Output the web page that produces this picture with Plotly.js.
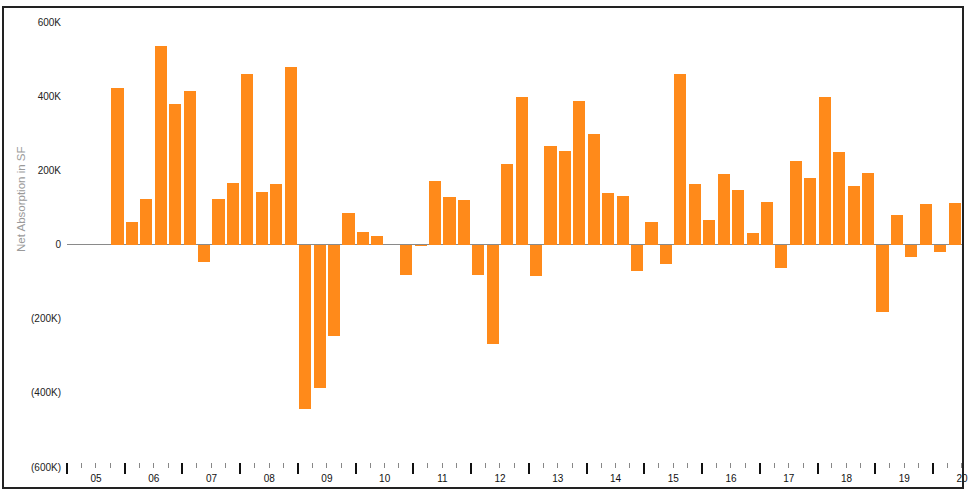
<!DOCTYPE html>
<html>
<head>
<meta charset="utf-8">
<script src="https://cdn.plot.ly/plotly-3.0.1.min.js"></script>
<style>
  html, body { margin: 0; padding: 0; background: #fff; }
  #chart { width: 968px; height: 493px; }
</style>
</head>
<body>
<div id="chart"></div>
<script>
// ---- data (net absorption, thousands of SF, by quarter) ----
const quarters = [
  "2005-Q4",
  "2006-Q1","2006-Q2","2006-Q3","2006-Q4",
  "2007-Q1","2007-Q2","2007-Q3","2007-Q4",
  "2008-Q1","2008-Q2","2008-Q3","2008-Q4",
  "2009-Q1","2009-Q2","2009-Q3","2009-Q4",
  "2010-Q1","2010-Q2","2010-Q3","2010-Q4",
  "2011-Q1","2011-Q2","2011-Q3","2011-Q4",
  "2012-Q1","2012-Q2","2012-Q3","2012-Q4",
  "2013-Q1","2013-Q2","2013-Q3","2013-Q4",
  "2014-Q1","2014-Q2","2014-Q3","2014-Q4",
  "2015-Q1","2015-Q2","2015-Q3","2015-Q4",
  "2016-Q1","2016-Q2","2016-Q3","2016-Q4",
  "2017-Q1","2017-Q2","2017-Q3","2017-Q4",
  "2018-Q1","2018-Q2","2018-Q3","2018-Q4",
  "2019-Q1","2019-Q2","2019-Q3","2019-Q4",
  "2020-Q1","2020-Q2"
];
const netAbsorptionK = [
  422,
  60, 122, 535, 378,
  414, -46, 122, 167,
  459, 141, 162, 478,
  -443, -386, -248, 84,
  35, 24, 0, -81,
  -5, 170, 127, 121,
  -81, -267, 218, 398,
  -84, 266, 252, 388,
  299, 139, 132, -72,
  62, -52, 459, 162,
  65, 190, 146, 32,
  114, -63, 225, 180,
  398, 250, 157, 194,
  -181, 79, -35, 110,
  -19, 113
];
const years = [2005,2006,2007,2008,2009,2010,2011,2012,2013,2014,2015,2016,2017,2018,2019,2020];
const yearLabels = ["05","06","07","08","09","10","11","12","13","14","15","16","17","18","19","20"];
const yTickValues = [-600, -400, -200, 0, 200, 400, 600];
const yTickLabels = ["(600K)", "(400K)", "(200K)", "0", "200K", "400K", "600K"];
const yTitle = "Net Absorption in SF";

// ---- derived positions (fractional years) ----
const xPos = quarters.map(q => {
  const [y, qq] = q.split("-Q");
  return Number(y) + (Number(qq) - 0.5) / 4;
});
const quarterTicks = [];
years.forEach(y => { [0.25, 0.5, 0.75].forEach(f => quarterTicks.push(y + f)); });

const W = 968, H = 493;
const mL = 67, mR = 5, mT = 22, mB = 20;
const plotH = H - mT - mB;
const plotW = W - mL - mR;
const fy = px => (H - mB - px) / plotH;   // pixel row -> paper y
const fx = px => (px - mL) / plotW;       // pixel col -> paper x

const xRange = [2005, 2020.52];
const pxPerYear = plotW / (xRange[1] - xRange[0]);

const trace = {
  type: "bar",
  x: xPos,
  y: netAbsorptionK,
  width: 0.21,
  marker: { color: "#FF8A1A", line: { width: 0 } },
  hoverinfo: "x+y",
  showlegend: false
};

const layout = {
  width: W, height: H,
  margin: { l: mL, r: mR, t: mT, b: mB, pad: 0 },
  paper_bgcolor: "#ffffff",
  plot_bgcolor: "#ffffff",
  font: { family: "Liberation Sans, Arial, sans-serif", size: 10, color: "#222" },
  showlegend: false,
  bargap: 0,
  xaxis: {
    range: xRange,
    tickmode: "array",
    tickvals: years,
    ticktext: yearLabels,
    ticklabelshift: Math.round(pxPerYear / 2),
    ticklabelstandoff: -4,
    tickfont: { size: 10, color: "#111" },
    ticks: "outside",
    ticklen: 11,
    tickwidth: 2,
    tickcolor: "#111",
    minor: { tickmode: "array", tickvals: quarterTicks, ticks: "outside", ticklen: 5, tickwidth: 1, tickcolor: "#888" },
    showgrid: false,
    zeroline: false,
    showline: false,
    anchor: "free",
    position: fy(462),
    fixedrange: true
  },
  yaxis: {
    domain: [fy(467), 1],
    range: [-600, 600],
    tickmode: "array",
    tickvals: yTickValues,
    ticktext: yTickLabels,
    ticks: "outside",
    ticklen: 3,
    tickcolor: "rgba(0,0,0,0)",
    tickfont: { size: 10, color: "#222" },
    showgrid: false,
    showline: false,
    zeroline: true,
    zerolinecolor: "#8a8a8a",
    zerolinewidth: 1,
    fixedrange: true
  },
  annotations: [{
    text: yTitle,
    xref: "paper", yref: "paper",
    x: fx(13), y: fy(200),
    textangle: -90,
    showarrow: false,
    font: { size: 11.5, color: "#9a9a9a" }
  }],
  shapes: [{
    type: "rect",
    xref: "paper", yref: "paper",
    x0: fx(3), x1: fx(963), y0: fy(488), y1: fy(7),
    line: { color: "#222", width: 2 },
    fillcolor: "rgba(0,0,0,0)",
    layer: "above"
  }]
};

Plotly.newPlot("chart", [trace], layout, { displayModeBar: false, staticPlot: true });
</script>
</body>
</html>
